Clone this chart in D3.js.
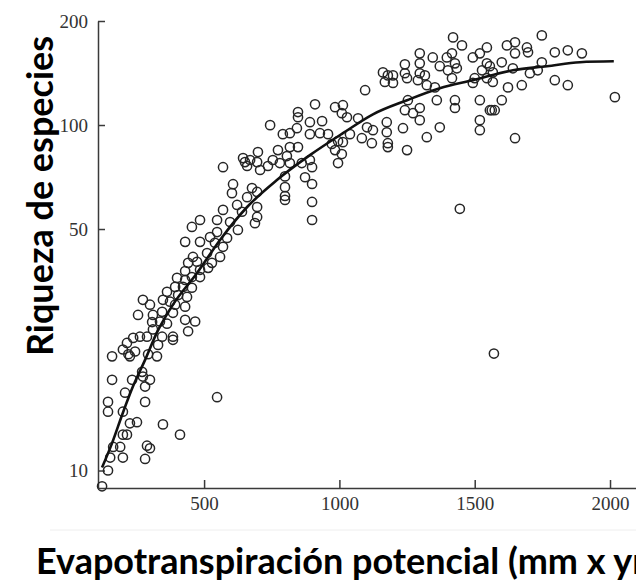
<!DOCTYPE html>
<html>
<head>
<meta charset="utf-8">
<script src="https://cdn.jsdelivr.net/npm/d3@7"></script>
<style>
  body { margin: 0; background: #fff; }
  #chart svg { display: block; }
  .axis path, .axis line { stroke: #3a3a3a; stroke-width: 1.5; }
  .axis text { font-family: "Liberation Serif", serif; font-size: 19px; fill: #333; }
  .axis_label { font-family: Lato, "Open Sans", sans-serif; font-weight: bold; font-size: 36px; fill: #000; }
  .dot { fill: none; stroke: #262626; stroke-width: 1.5; }
  .trend { fill: none; stroke: #111; stroke-width: 2.6; }
</style>
</head>
<body>
<div id="chart"></div>
<script>
/**
 * DATA
 * x = potential evapotranspiration, y = species richness (log axis)
 */
const pointPet = [
  215, 330, 385, 160, 200, 220, 245, 226, 293, 326, 160, 234, 271, 274, 300, 282, 208, 145, 145, 282,
  200, 226, 252, 348, 411, 548, 200, 215, 190, 164, 289, 300, 200, 153, 282, 145, 123,
  603, 659, 696, 570, 622, 640, 696, 696, 688, 485, 455, 548, 548, 596, 625, 430, 485, 522, 540,
  585, 570, 511, 559, 529, 459, 474, 441, 485, 515, 430, 400, 430, 455, 485, 393, 422, 455, 363,
  404, 437, 348, 374, 393, 430, 274, 300, 256, 345, 311, 385, 337, 363, 430, 467, 441, 308, 263,
  289, 345, 385, 311, 238,
  1095, 910, 984, 1013, 1009, 1028, 847, 847, 843, 817, 791, 744, 891, 936, 891, 928, 958, 1069,
  1102, 1039, 1083, 995, 972, 984, 1013, 1009, 995, 847, 817, 773, 699, 644, 651, 670, 696, 659,
  707, 736, 754, 780, 806, 817, 861, 891, 899, 873, 899, 799, 799, 799, 799, 570, 607, 677, 899, 899,
  1420, 1453, 1416, 1397, 1427, 1434, 1401, 1371, 1345, 1297, 1297, 1297, 1242, 1242, 1250, 1161,
  1179, 1198, 1168, 1198, 1290, 1316, 1323, 1353, 1416, 1493, 1519, 1545, 1545, 1527, 1500, 1493,
  1545, 1519, 1556, 1519, 1519, 1427, 1427, 1360, 1297, 1242, 1272, 1297, 1253, 1371, 1323, 1235,
  1250, 1175, 1175, 1179, 1179, 1124, 1120,
  1748, 1649, 1619, 1649, 1693, 1697, 1796, 1844, 1896, 1600, 1556, 1567, 1641, 1748, 1733, 1704,
  1567, 1623, 1674, 1796, 1844, 2018, 1600, 1563, 1574, 1649, 1445, 1571
];
const pointRichness = [
  23.4, 23.1, 23.9, 21.4, 22.4, 21.7, 22.1, 21.4, 21.7, 21.4, 18.3, 18.3, 19.3, 18.7, 18.3, 17.5, 16.8, 15.8, 14.8, 15.8,
  14.8, 13.7, 13.8, 13.6, 12.7, 16.3, 12.7, 12.7, 11.7, 11.7, 11.8, 11.6, 10.9, 10.9, 10.8, 10.0, 9.0,
  63.5, 61.8, 64.0, 56.8, 58.7, 56.1, 57.9, 54.2, 52.0, 53.1, 50.7, 53.1, 49.0, 52.4, 49.7, 45.9, 45.9, 47.4, 45.6,
  47.1, 44.4, 42.6, 41.5, 39.9, 41.5, 40.2, 39.9, 38.1, 38.6, 37.8, 36.1, 35.6, 36.3, 36.3, 34.0, 34.0, 33.8, 32.9,
  32.2, 31.8, 31.2, 30.8, 30.2, 29.8, 31.2, 30.2, 28.2, 28.8, 28.2, 28.6, 27.0, 26.6, 27.3, 27.0, 25.3, 26.9, 24.4,
  24.4, 24.4, 24.4, 25.6, 24.2,
  126.1, 114.8, 112.6, 114.1, 108.2, 105.3, 109.0, 105.3, 97.9, 94.7, 94.1, 99.9, 101.9, 102.6, 94.1, 94.7, 94.1, 104.6,
  98.5, 94.1, 91.6, 89.8, 88.1, 84.6, 89.2, 82.4, 77.6, 86.3, 86.3, 84.6, 83.5, 80.2, 78.1, 79.2, 78.1, 76.1,
  74.1, 76.1, 79.2, 77.6, 81.3, 77.6, 77.6, 79.2, 75.5, 70.6, 67.5, 71.0, 66.1, 62.3, 60.7, 75.5, 67.4, 65.7, 59.9, 53.1,
  179.3, 170.0, 161.2, 156.9, 150.8, 145.9, 144.0, 148.0, 156.9, 161.2, 150.8, 141.2, 149.8, 141.2, 136.6, 142.0,
  139.2, 139.2, 133.2, 132.4, 134.8, 139.2, 130.4, 128.5, 136.6, 156.9, 161.2, 167.7, 150.8, 144.0, 136.6, 132.4,
  136.6, 118.0, 110.4, 103.3, 96.6, 118.0, 112.0, 118.0, 112.0, 110.4, 108.2, 103.3, 118.0, 98.5, 92.2, 97.9,
  84.6, 101.9, 95.3, 88.6, 86.3, 96.6, 88.6,
  181.7, 173.5, 170.0, 161.2, 167.7, 162.3, 162.3, 164.5, 161.2, 151.9, 148.0, 142.0, 145.9, 151.9, 144.0, 141.2,
  133.2, 128.5, 130.4, 134.8, 130.4, 120.4, 118.0, 110.4, 110.4, 91.6, 57.2, 21.8
];
// fitted curve
const curvePet = [123, 160, 200, 237, 282, 326, 385, 474, 559, 659, 769, 891, 1013, 1124, 1250, 1371, 1493, 1641, 1767, 1889, 2014];
const curveRichness = [10.2, 12.0, 14.7, 17.5, 20.9, 25.1, 30.2, 37.3, 46.5, 57.9, 69.3, 81.8, 94.7, 107.4, 118.0, 127.8, 134.8, 144.0, 148.0, 152.0, 152.9];

const xTicks = [500, 1000, 1500, 2000];
const yTicks = [10, 50, 100, 200];
const xDomain = [108, 2096];
const yDomain = [8.9, 200];
const xTitle = "Evapotranspiración potencial (mm x yr)";
const yTitle = "Riqueza de especies";

/**
 * CONSTANTS AND GLOBALS
 */
const width = 636, height = 582;
const plot = { left: 98, right: 636, top: 21, bottom: 488 };
let svg, xscale, yscale;

init();

function init() {
  svg = d3.select("#chart")
    .append("svg")
    .attr("width", width)
    .attr("height", height);

  xscale = d3.scaleLinear().domain(xDomain).range([plot.left, plot.right]);
  yscale = d3.scaleLog().domain(yDomain).range([plot.bottom, plot.top]);

  // faint scan edge under the tick labels
  svg.append("line")
    .attr("x1", 50).attr("x2", width)
    .attr("y1", 530).attr("y2", 530)
    .attr("stroke", "#eeeeee");

  const xaxis = d3.axisBottom(xscale)
    .tickValues(xTicks)
    .tickSize(-8)
    .tickSizeOuter(0)
    .tickPadding(9)
    .tickFormat(d3.format("d"));
  const yaxis = d3.axisLeft(yscale)
    .tickValues(yTicks)
    .tickSize(-7)
    .tickSizeOuter(0)
    .tickPadding(10)
    .tickFormat(d3.format("d"));

  svg.append("g")
    .attr("class", "axis x_axis")
    .attr("transform", `translate(0, ${plot.bottom})`)
    .call(xaxis);

  svg.append("g")
    .attr("class", "axis y_axis")
    .attr("transform", `translate(${plot.left}, 0)`)
    .call(yaxis);

  draw();

  // axis titles
  svg.append("text")
    .attr("class", "axis_label")
    .attr("x", 36)
    .attr("y", 574)
    .text(xTitle);

  svg.append("text")
    .attr("class", "axis_label")
    .attr("text-anchor", "middle")
    .attr("transform", "translate(53, 196) rotate(-90)")
    .text(yTitle);
}

function draw() {
  const points = pointPet.map((d, i) => ({ pet: d, rich: pointRichness[i] }));
  const curve = curvePet.map((d, i) => ({ pet: d, rich: curveRichness[i] }));

  svg.selectAll(".dot")
    .data(points)
    .join("circle")
    .attr("class", "dot")
    .attr("r", 4.6)
    .attr("cx", d => xscale(d.pet))
    .attr("cy", d => yscale(d.rich));

  const lineFunc = d3.line()
    .curve(d3.curveMonotoneX)
    .x(d => xscale(d.pet))
    .y(d => yscale(d.rich));

  svg.append("path")
    .datum(curve)
    .attr("class", "trend")
    .attr("d", lineFunc);
}
</script>
</body>
</html>
